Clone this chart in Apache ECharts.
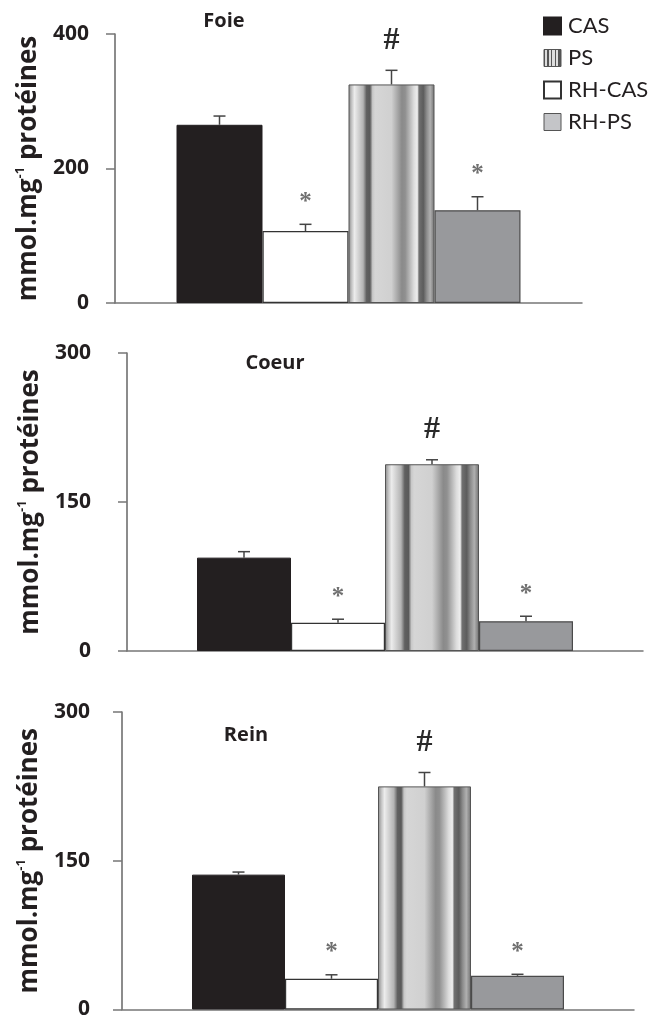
<!DOCTYPE html>
<html>
<head>
<meta charset="utf-8">
<script src="https://cdn.jsdelivr.net/npm/echarts@6/dist/echarts.min.js"></script>
<style>
  html, body { margin: 0; padding: 0; background: #fff; }
  #main { width: 664px; height: 1020px; }
</style>
</head>
<body>
<div id="main"></div>
<script>
// ordre des barres sur l'axe et ordre de la légende
var barOrder = ['CAS', 'RH-CAS', 'PS', 'RH-PS'];
var legendOrder = ['CAS', 'PS', 'RH-CAS', 'RH-PS'];
var organs = ['Foie', 'Coeur', 'Rein'];

// moyennes et erreurs (mmol.mg-1 protéines), dans l'ordre de barOrder
var foieMean = [265, 107, 325, 138];
var foieErr = [13, 10, 21, 20];
var coeurMean = [94, 28.5, 188, 30];
var coeurErr = [6, 3.5, 4.5, 5];
var reinMean = [136, 31, 225, 34];
var reinErr = [2.6, 4, 14, 1.5];

// signes de significativité au-dessus de chaque barre
var marks = ['', '*', '#', '*'];

// graduations de l'axe y
var foieTicks = [0, 200, 400];
var coeurTicks = [0, 150, 300];
var reinTicks = [0, 150, 300];

var means = [foieMean, coeurMean, reinMean];
var errs = [foieErr, coeurErr, reinErr];
var ticks = [foieTicks, coeurTicks, reinTicks];

// mise en page des trois panneaux
var grids = [
  {left: 115, top: 34, width: 467, height: 269},
  {left: 127, top: 353, width: 516, height: 298},
  {left: 122, top: 712, width: 512, height: 299}
];
var barWidths = [86, 94, 93];
var nameGaps = [67, 79, 74];
var labelMargins = [26, 36, 32];
var titlePos = [[224, 21], [275, 363], [246, 735]];

var psGradient = new echarts.graphic.LinearGradient(0, 0, 1, 0, [
  {offset: 0, color: '#888888'},
  {offset: 0.04, color: '#c8c8c8'},
  {offset: 0.07, color: '#ececec'},
  {offset: 0.17, color: '#b4b4b4'},
  {offset: 0.21, color: '#606060'},
  {offset: 0.25, color: '#5a5a5a'},
  {offset: 0.28, color: '#c8c8c8'},
  {offset: 0.31, color: '#d6d6d6'},
  {offset: 0.50, color: '#d0d0d0'},
  {offset: 0.62, color: '#8a8a8a'},
  {offset: 0.66, color: '#909090'},
  {offset: 0.76, color: '#dcdcdc'},
  {offset: 0.80, color: '#eeeeee'},
  {offset: 0.82, color: '#707070'},
  {offset: 0.87, color: '#5c5c5c'},
  {offset: 0.91, color: '#8c8c8c'},
  {offset: 0.95, color: '#b0b0b0'},
  {offset: 1, color: '#707070'}
]);

var psIconGradient = new echarts.graphic.LinearGradient(0, 0, 1, 0, [
  {offset: 0, color: '#555'}, {offset: 0.1, color: '#555'},
  {offset: 0.1, color: '#ddd'}, {offset: 0.22, color: '#ddd'},
  {offset: 0.22, color: '#555'}, {offset: 0.3, color: '#555'},
  {offset: 0.3, color: '#ddd'}, {offset: 0.42, color: '#ddd'},
  {offset: 0.42, color: '#555'}, {offset: 0.5, color: '#555'},
  {offset: 0.5, color: '#ddd'}, {offset: 0.62, color: '#ddd'},
  {offset: 0.62, color: '#555'}, {offset: 0.7, color: '#555'},
  {offset: 0.7, color: '#ddd'}, {offset: 0.82, color: '#ddd'},
  {offset: 0.82, color: '#555'}, {offset: 1, color: '#555'}
]);

var barStyles = {
  'CAS': {color: '#231f20', borderColor: '#231f20', borderWidth: 1},
  'RH-CAS': {color: '#ffffff', borderColor: '#333333', borderWidth: 1.2},
  'PS': {color: psGradient, borderColor: '#555555', borderWidth: 1},
  'RH-PS': {color: '#98999c', borderColor: '#4a4a4a', borderWidth: 1.2}
};

var boldFont = 'Open Sans';

var xAxes = [], yAxes = [], series = [], graphics = [];

for (var g = 0; g < 3; g++) {
  var t = ticks[g];
  xAxes.push({
    type: 'category',
    gridIndex: g,
    data: [''],
    axisLine: {lineStyle: {color: '#777', width: 1.5}},
    axisTick: {show: false},
    axisLabel: {show: false}
  });
  yAxes.push({
    type: 'value',
    gridIndex: g,
    min: t[0],
    max: t[t.length - 1],
    interval: t[1] - t[0],
    splitLine: {show: false},
    axisLine: {show: true, lineStyle: {color: '#666', width: 1.5}},
    axisTick: {show: true, inside: false, length: 9, lineStyle: {color: '#777', width: 1.5}},
    axisLabel: {
      margin: labelMargins[g],
      color: '#231f20',
      fontFamily: boldFont,
      fontWeight: 'bold',
      fontSize: 21
    },
    name: '{a|mmol.mg}{s|-1}{a| protéines}',
    nameLocation: 'middle',
    nameRotate: 90,
    nameGap: nameGaps[g],
    nameTextStyle: {
      rich: {
        a: {fontFamily: boldFont, fontWeight: 'bold', fontSize: 26, color: '#231f20', lineHeight: 30},
        s: {fontFamily: boldFont, fontWeight: 'bold', fontSize: 13, color: '#231f20', lineHeight: 13, verticalAlign: 'top'}
      }
    }
  });

  barOrder.forEach(function (name, k) {
    series.push({
      type: 'bar',
      name: name,
      xAxisIndex: g,
      yAxisIndex: g,
      barWidth: barWidths[g],
      barGap: '0%',
      itemStyle: barStyles[name],
      emphasis: {disabled: true},
      data: [means[g][k]]
    });
  });

  (function (g) {
    var m = means[g], e = errs[g], bw = barWidths[g];
    series.push({
      type: 'custom',
      xAxisIndex: g,
      yAxisIndex: g,
      z: 5,
      silent: true,
      data: m.map(function (v, i) { return [0, v, e[i]]; }),
      encode: {x: 0, y: 1},
      renderItem: function (params, api) {
        var i = params.dataIndex;
        var base = api.coord([0, api.value(1)]);
        var top = api.coord([0, api.value(1) + api.value(2)]);
        var x = base[0] + (i - 1.5) * bw;
        var children = [
          {type: 'line', shape: {x1: x, y1: base[1], x2: x, y2: top[1]},
           style: {stroke: '#444', lineWidth: 1.5}},
          {type: 'line', shape: {x1: x - 6, y1: top[1], x2: x + 6, y2: top[1]},
           style: {stroke: '#444', lineWidth: 1.5}}
        ];
        var mk = marks[i];
        if (mk) {
          var hash = mk === '#';
          children.push({
            type: 'text',
            style: {
              text: mk,
              x: x,
              y: top[1] - (hash ? 30 : 22),
              align: 'center',
              verticalAlign: 'middle',
              fontFamily: 'Liberation Serif',
              fontWeight: 'bold',
              fontSize: hash ? 32 : 25,
              fill: hash ? '#2a2a2a' : '#707070'
            }
          });
        }
        return {type: 'group', children: children};
      }
    });
  })(g);

  graphics.push({
    type: 'text',
    x: titlePos[g][0],
    y: titlePos[g][1],
    style: {
      text: organs[g],
      align: 'center',
      verticalAlign: 'middle',
      fontFamily: boldFont,
      fontWeight: 'bold',
      fontSize: 20,
      fill: '#231f20'
    }
  });
}

var chart = echarts.init(document.getElementById('main'), null, {renderer: 'canvas'});
chart.setOption({
  animation: false,
  backgroundColor: '#ffffff',
  grid: grids,
  xAxis: xAxes,
  yAxis: yAxes,
  legend: {
    orient: 'vertical',
    left: 538,
    top: 10,
    icon: 'rect',
    itemWidth: 17,
    itemHeight: 17,
    itemGap: 10,
    selectedMode: false,
    textStyle: {fontFamily: 'Lato', fontSize: 22, color: '#231f20', padding: [0, 0, 0, 2]},
    data: legendOrder.map(function (n) {
      if (n === 'PS') return {name: n, itemStyle: {color: psIconGradient, borderColor: '#555', borderWidth: 1}};
      if (n === 'RH-PS') return {name: n, itemStyle: {color: '#c4c5c8', borderColor: '#555', borderWidth: 1}};
      return n;
    })
  },
  graphic: graphics,
  series: series
});
</script>
</body>
</html>
